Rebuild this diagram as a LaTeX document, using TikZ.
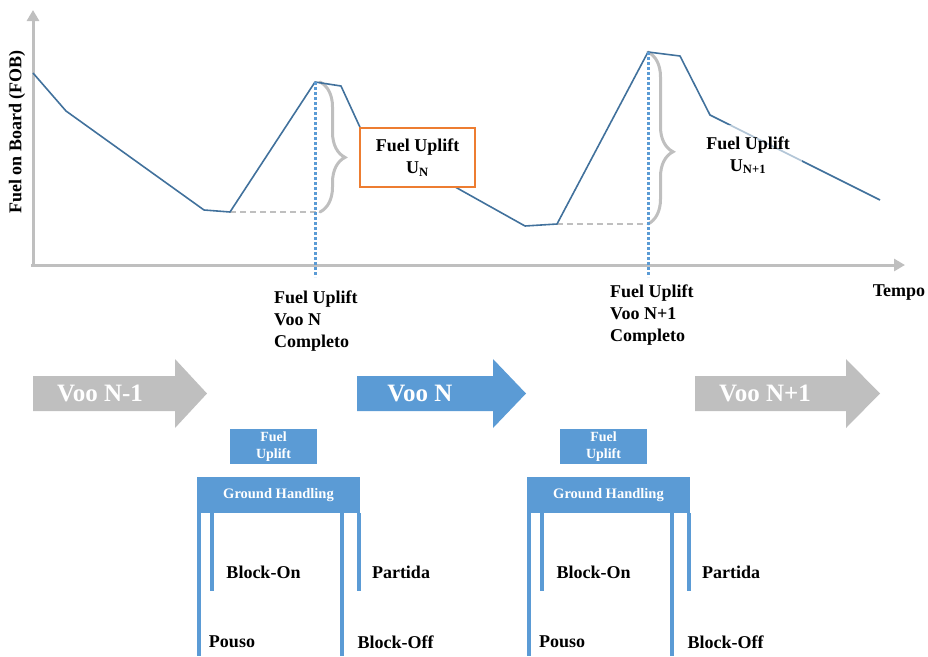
\documentclass[tikz,border=0pt]{standalone}
\usepackage{fontspec}
\setmainfont{Liberation Serif}
\usetikzlibrary{decorations.pathreplacing,arrows.meta,calc}
\definecolor{fobline}{HTML}{41719C}
\definecolor{accent}{HTML}{5B9BD5}
\definecolor{axisgray}{HTML}{BFBFBF}
\definecolor{uporange}{HTML}{ED7D31}
\begin{document}
\begin{tikzpicture}[x=1pt,y=-1pt,
  lbl/.style={font=\bfseries\fontsize{18}{22}\selectfont, inner sep=0pt, align=left},
  axisline/.style={axisgray, line width=3pt, -{Triangle[length=11pt,width=12pt]}},
  fob/.style={fobline, line width=1.6pt, line join=round},
  marker/.style={accent, line width=3pt, dash pattern=on 2.6pt off 2.4pt},
  bracegray/.style={axisgray, line width=3pt, line cap=round,
    decorate, decoration={brace, amplitude=25pt, aspect=0.58}},
  baseline dash/.style={axisgray, line width=2pt, dash pattern=on 6pt off 4pt},
  flow/.style={line width=0pt},
  flowtext/.style={text=white, font=\bfseries\fontsize{25}{28}\selectfont, inner sep=0pt},
  upbox/.style={fill=accent, text=white, font=\bfseries\fontsize{14}{17}\selectfont,
    minimum width=87pt, minimum height=35pt, inner sep=0pt, align=center},
  ghbar/.style={fill=accent, text=white, font=\bfseries\fontsize{14.5}{17}\selectfont,
    minimum width=163pt, minimum height=36pt, inner sep=0pt},
  ghpost/.style={accent, line width=3.8pt},
  ]
\useasboundingbox (0,0) rectangle (928,656);

% axes
\draw[axisline] (33,266) -- (33,10);
\draw[axisline] (31,265) -- (905,265);
\node[lbl, rotate=90] (ylab) at (17,132) {Fuel on Board (FOB)};
\node[lbl] (tempo) at (899,293) {Tempo};

% uplift braces and reference levels
\coordinate (peakN) at (315,82);
\coordinate (lowN) at (230,212);
\coordinate (peakM) at (648,52);
\coordinate (lowM) at (557,224);
\draw[baseline dash] (lowN) -- (320,212);
\draw[baseline dash] (lowM) -- (648,224);
\draw[bracegray] (320,82) -- (320,212);
\draw[bracegray] (648,52) -- (648,224);

% fuel on board curve
\draw[fob] (33,73) -- (66,111) -- (204,210) -- (lowN) -- (peakN) -- (341,86)
  -- (364,136) -- (525,226) -- (lowM) -- (peakM) -- (680,56) -- (710,115) -- (880,200);

% uplift labels
\node[draw=uporange, line width=2pt, fill=white, minimum width=115pt, minimum height=59pt,
  lbl, align=center] (upN) at (417.5,157.5) {Fuel Uplift\\U\textsubscript{N}};
\node[fill=white, fill opacity=0.6, text opacity=1, minimum width=107pt, minimum height=60pt,
  lbl, align=center] (upM) at (748,155) {Fuel Uplift\\U\textsubscript{N+1}};

% completion markers
\coordinate (markN) at (315,277);
\coordinate (markM) at (648,277);
\draw[marker] (peakN) -- (markN);
\draw[marker] (peakM) -- (markM);
\node[lbl, anchor=west] (doneN) at (274,321) {Fuel Uplift\\Voo N\\Completo};
\node[lbl, anchor=west] (doneM) at (610,315) {Fuel Uplift\\Voo N+1\\Completo};

% flight arrows
\fill[axisgray] (33,376) -- (175,376) -- (175,359) -- (207,393.5) -- (175,428) -- (175,411) -- (33,411) -- cycle;
\fill[accent] (357,376) -- (493,376) -- (493,359) -- (526,393.5) -- (493,428) -- (493,411) -- (357,411) -- cycle;
\fill[axisgray] (695,376) -- (846,376) -- (846,359) -- (880,393.5) -- (846,428) -- (846,411) -- (695,411) -- cycle;
\node[flowtext] (vooA) at (100,393.5) {Voo N-1};
\node[flowtext] (vooB) at (420,393.5) {Voo N};
\node[flowtext] (vooC) at (765,393.5) {Voo N+1};

% ground handling between flights
\foreach \dx/\n in {0/a,330/b} {
  \begin{scope}[xshift=\dx pt]
    \node[upbox] (fu\n) at (273.5,446.5) {Fuel\\Uplift};
    \node[ghbar] (gh\n) at (278.5,495) {Ground Handling};
    \draw[ghpost] ([xshift=2pt]gh\n.south west) -- ++(0,143);
    \draw[ghpost] ([xshift=15pt]gh\n.south west) -- ++(0,78);
    \draw[ghpost] ([xshift=-18pt]gh\n.south east) -- ++(0,143);
    \draw[ghpost] ([xshift=-1pt]gh\n.south east) -- ++(0,78);
    \node[lbl] (on\n) at (263.5,572) {Block-On};
    \node[lbl] (dep\n) at (401,572) {Partida};
    \node[lbl] (land\n) at (232,642) {Pouso};
    \node[lbl] (off\n) at (395.5,642) {Block-Off};
  \end{scope}
}
\end{tikzpicture}
\end{document}
